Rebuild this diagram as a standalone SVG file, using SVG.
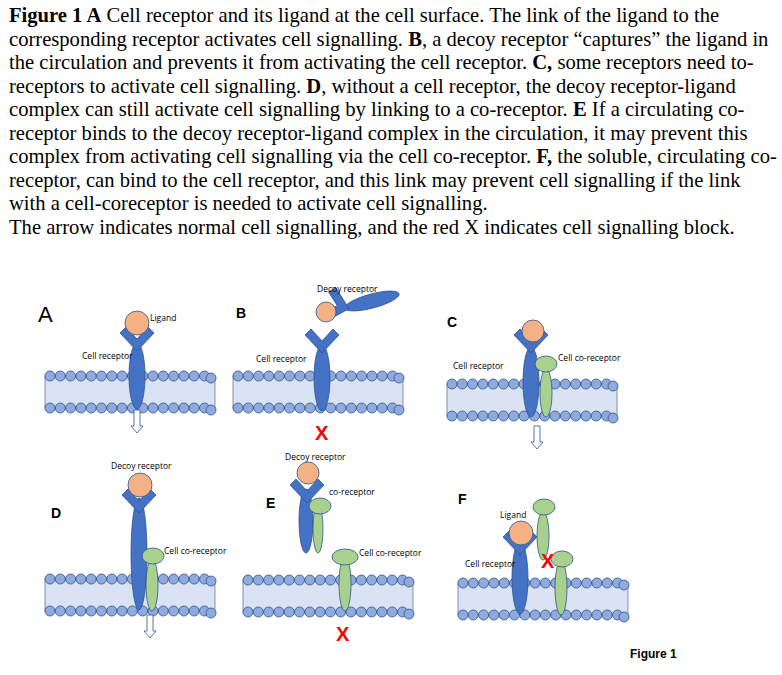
<svg xmlns="http://www.w3.org/2000/svg" xmlns:xlink="http://www.w3.org/1999/xlink" width="782" height="675" viewBox="0 0 782 675">
<style>
.cap{font-family:"Liberation Serif",serif;font-size:20.6px;fill:#000}
.lb{font-family:"Open Sans","Liberation Sans",sans-serif;font-size:8.5px;fill:#000}
.pl{font-family:"Liberation Sans",sans-serif;font-weight:bold;font-size:14px}
.bl{fill:#4472c4;stroke:#2f528f;stroke-width:0.8}
.gr{fill:#a9d18e;stroke:#2f528f;stroke-width:0.8}
.lg{fill:#f4b183;stroke:#2f528f;stroke-width:0.8}
.bd{fill:#8faadc;stroke:#2f528f;stroke-width:0.8}
.x{font-family:"Liberation Sans",sans-serif;font-weight:bold;font-size:20px;fill:#ff0000}
.ar{fill:#fff;stroke:#2f528f;stroke-width:0.8}
</style>
<defs>
<g id="mem">
<rect x="0" y="0" width="170" height="32" fill="#dae3f3" stroke="#2f528f" stroke-width="0.6"/>
<g class="bd">
<circle cx="5" cy="0" r="5"/><circle cx="15.3" cy="0" r="5"/><circle cx="25.6" cy="0" r="5"/><circle cx="35.9" cy="0" r="5"/><circle cx="46.2" cy="0" r="5"/><circle cx="56.5" cy="0" r="5"/><circle cx="66.8" cy="0" r="5"/><circle cx="77.1" cy="0" r="5"/><circle cx="87.4" cy="0" r="5"/><circle cx="97.7" cy="0" r="5"/><circle cx="108" cy="0" r="5"/><circle cx="118.3" cy="0" r="5"/><circle cx="128.6" cy="0" r="5"/><circle cx="138.9" cy="0" r="5"/><circle cx="149.2" cy="0" r="5"/><circle cx="159.5" cy="0" r="5"/><circle cx="166" cy="2" r="5"/>
<circle cx="5" cy="32" r="5"/><circle cx="15.3" cy="32" r="5"/><circle cx="25.6" cy="32" r="5"/><circle cx="35.9" cy="32" r="5"/><circle cx="46.2" cy="32" r="5"/><circle cx="56.5" cy="32" r="5"/><circle cx="66.8" cy="32" r="5"/><circle cx="77.1" cy="32" r="5"/><circle cx="87.4" cy="32" r="5"/><circle cx="97.7" cy="32" r="5"/><circle cx="108" cy="32" r="5"/><circle cx="118.3" cy="32" r="5"/><circle cx="128.6" cy="32" r="5"/><circle cx="138.9" cy="32" r="5"/><circle cx="149.2" cy="32" r="5"/><circle cx="159.5" cy="32" r="5"/><circle cx="166" cy="34" r="5"/>
</g>
</g>
<path id="arms" class="bl" d="M-17,-15 L-11,-21 L0,-9 L11,-21 L17,-15 L0,3 Z"/>
<path id="arrow" class="ar" d="M-3,0 H3 V16 H6 L0,23 L-6,16 H-3 Z"/>
</defs>

<g id="caption">
<text class="cap" x="9" y="22"><tspan font-weight="bold">Figure 1  A</tspan> Cell receptor and its ligand at the cell surface. The link of the ligand to the</text>
<text class="cap" x="9" y="46">corresponding receptor activates cell signalling. <tspan font-weight="bold">B</tspan>, a decoy receptor “captures” the ligand in</text>
<text class="cap" x="9" y="69">the circulation and prevents it from activating the cell receptor. <tspan font-weight="bold">C,</tspan> some receptors need to-</text>
<text class="cap" x="9" y="93">receptors to activate cell signalling.  <tspan font-weight="bold">D</tspan>, without a cell receptor, the decoy receptor-ligand</text>
<text class="cap" x="9" y="116">complex can still activate cell signalling by linking to a co-receptor. <tspan font-weight="bold">E</tspan> If a circulating co-</text>
<text class="cap" x="9" y="140">receptor binds to the decoy receptor-ligand complex in the circulation, it may prevent this</text>
<text class="cap" x="9" y="163">complex from activating cell signalling via the cell co-receptor. <tspan font-weight="bold">F,</tspan> the soluble, circulating co-</text>
<text class="cap" x="9" y="187">receptor, can bind to the cell receptor, and this link may prevent cell signalling if the link</text>
<text class="cap" x="9" y="210">with a cell-coreceptor is needed to activate cell signalling.</text>
<text class="cap" x="9" y="234">The arrow indicates normal cell signalling, and the red X  indicates cell signalling block.</text>
</g>

<g id="panelA">
<use xlink:href="#mem" x="45" y="376"/>
<use xlink:href="#arrow" x="137" y="410"/>
<ellipse class="bl" cx="137" cy="376" rx="8" ry="33"/>
<use xlink:href="#arms" x="137" y="348"/>
<circle class="lg" cx="137" cy="323" r="12"/>
<text x="38" y="322" font-family="Liberation Sans,sans-serif" font-size="22">A</text>
<text class="lb" x="150" y="321">Ligand</text>
<text class="lb" x="82" y="359" font-size="7">Cell receptor</text>
</g>

<g id="panelB">
<use xlink:href="#mem" x="233" y="376"/>
<ellipse class="bl" cx="322" cy="378" rx="8" ry="33"/>
<use xlink:href="#arms" x="322" y="350"/>
<ellipse class="bl" cx="372" cy="301" rx="28" ry="7" transform="rotate(-15 372 301)"/>
<use xlink:href="#arms" transform="translate(346,308) rotate(-75)"/>
<circle class="lg" cx="326" cy="312" r="10"/>
<text class="pl" x="236" y="318">B</text>
<text class="lb" x="317" y="292" font-size="7.5">Decoy receptor</text>
<text class="lb" x="256" y="362">Cell receptor</text>
<text class="x" x="315" y="440">X</text>
</g>

<g id="panelC">
<use xlink:href="#mem" x="447" y="384"/>
<ellipse class="bl" cx="531" cy="382" rx="8" ry="35"/>
<use xlink:href="#arms" x="531" y="350"/>
<circle class="lg" cx="533" cy="331" r="11"/>
<ellipse class="gr" cx="546" cy="393" rx="6" ry="24"/>
<ellipse class="gr" cx="546" cy="364" rx="11" ry="8"/>
<use xlink:href="#arrow" x="537" y="426"/>
<text class="pl" x="447" y="327">C</text>
<text class="lb" x="453" y="369">Cell receptor</text>
<text class="lb" x="558" y="361">Cell co-receptor</text>
</g>

<g id="panelD">
<use xlink:href="#mem" x="45" y="579"/>
<use xlink:href="#arrow" x="150" y="615"/>
<ellipse class="bl" cx="139" cy="554" rx="8" ry="56"/>
<use xlink:href="#arms" x="139" y="510"/>
<circle class="lg" cx="140" cy="485" r="12"/>
<ellipse class="gr" cx="152" cy="585" rx="6" ry="26"/>
<ellipse class="gr" cx="153" cy="556" rx="11" ry="8"/>
<text class="pl" x="51" y="518">D</text>
<text class="lb" x="111" y="469" font-size="8">Decoy receptor</text>
<text class="lb" x="164" y="554">Cell co-receptor</text>
</g>

<g id="panelE">
<use xlink:href="#mem" x="243" y="580"/>
<ellipse class="bl" cx="306" cy="521" rx="7" ry="32"/>
<use xlink:href="#arms" x="307" y="500"/>
<circle class="lg" cx="308" cy="473" r="11"/>
<ellipse class="gr" cx="318" cy="529" rx="5" ry="24"/>
<ellipse class="gr" cx="320" cy="506" rx="11" ry="8"/>
<ellipse class="gr" cx="345" cy="584" rx="6" ry="27"/>
<ellipse class="gr" cx="345" cy="557" rx="13" ry="8"/>
<text class="pl" x="266" y="508">E</text>
<text class="lb" x="285" y="460" font-size="8">Decoy receptor</text>
<text class="lb" x="329" y="495">co-receptor</text>
<text class="lb" x="359" y="556">Cell co-receptor</text>
<text class="x" x="336" y="641">X</text>
</g>

<g id="panelF">
<use xlink:href="#mem" x="458" y="583"/>
<ellipse class="bl" cx="520" cy="578" rx="8" ry="36"/>
<use xlink:href="#arms" x="520" y="552"/>
<circle class="lg" cx="521" cy="533" r="12"/>
<ellipse class="gr" cx="543" cy="536" rx="6" ry="24"/>
<ellipse class="gr" cx="544" cy="507" rx="11" ry="8"/>
<ellipse class="gr" cx="561" cy="588" rx="6" ry="27"/>
<ellipse class="gr" cx="562" cy="559" rx="11" ry="8"/>
<text class="x" x="541" y="568">X</text>
<text class="pl" x="458" y="504">F</text>
<text class="lb" x="500" y="518">Ligand</text>
<text class="lb" x="465" y="567" font-size="7">Cell receptor</text>
</g>

<text x="630" y="658" font-family="Liberation Sans,sans-serif" font-weight="bold" font-size="12">Figure 1</text>
</svg>
